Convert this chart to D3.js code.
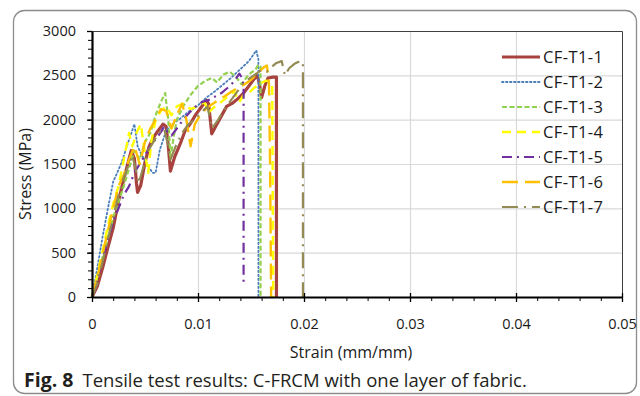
<!DOCTYPE html>
<html>
<head>
<meta charset="utf-8">
<script src="https://cdn.jsdelivr.net/npm/d3@7"></script>
<style>
  body { margin: 0; background: #fff; }
  svg { display: block; font-family: "Open Sans", "Noto Sans", sans-serif; }
</style>
</head>
<body>
<figure id="chart" style="margin:0"></figure>
<script>
// specimen names
const names = ["CF-T1-1", "CF-T1-2", "CF-T1-3", "CF-T1-4", "CF-T1-5", "CF-T1-6", "CF-T1-7"];

// [strain, stress]
const s1 = [[0,0],[0.0005,120],[0.001,330],[0.0015,560],[0.002,780],[0.0025,1080],[0.003,1330],[0.0035,1560],[0.0037,1650],[0.004,1560],[0.0042,1280],[0.0043,1180],[0.0046,1260],[0.005,1520],[0.0054,1700],[0.0058,1800],[0.0062,1870],[0.0067,1950],[0.007,1920],[0.0072,1700],[0.0074,1420],[0.0078,1580],[0.0083,1720],[0.0088,1880],[0.0093,1960],[0.0098,2060],[0.0103,2140],[0.0108,2220],[0.011,2180],[0.0113,1840],[0.0117,1930],[0.0122,2040],[0.0127,2150],[0.0133,2190],[0.0138,2240],[0.0143,2300],[0.0148,2380],[0.0153,2460],[0.0156,2500],[0.0158,2400],[0.016,2250],[0.0163,2380],[0.0166,2470],[0.0171,2480],[0.0174,2480],[0.0174,0]];
const s2 = [[0,0],[0.0005,330],[0.001,680],[0.0015,1000],[0.002,1300],[0.0023,1380],[0.0028,1520],[0.0034,1740],[0.004,1950],[0.0043,1700],[0.0047,1600],[0.0052,1500],[0.0057,1400],[0.006,1400],[0.0064,1660],[0.007,1880],[0.0077,1960],[0.0083,2010],[0.009,2080],[0.0099,2150],[0.0108,2250],[0.0116,2320],[0.0124,2400],[0.0132,2480],[0.014,2570],[0.0148,2660],[0.0155,2780],[0.0157,2680],[0.0157,0]];
const s3 = [[0,0],[0.001,450],[0.002,900],[0.003,1250],[0.0035,1450],[0.004,1650],[0.0045,1550],[0.005,1750],[0.0055,1850],[0.006,2050],[0.0065,2200],[0.0069,2300],[0.0072,2000],[0.0074,1560],[0.0077,1800],[0.008,2000],[0.0086,2150],[0.0093,2280],[0.01,2380],[0.0107,2440],[0.0113,2470],[0.0118,2420],[0.0124,2510],[0.013,2540],[0.0136,2480],[0.0141,2400],[0.0146,2480],[0.015,2530],[0.0154,2560],[0.0157,2620],[0.0159,2600],[0.0159,0]];
const s4 = [[0,0],[0.0005,250],[0.001,520],[0.0015,800],[0.002,1050],[0.0025,1250],[0.003,1550],[0.0035,1850],[0.0038,1700],[0.0042,1850],[0.0046,1950],[0.0049,1700],[0.0053,1400],[0.0056,1750],[0.006,2000],[0.0065,2100],[0.007,2150],[0.0075,2050],[0.008,2150],[0.0086,2180],[0.0093,2120],[0.01,2150],[0.0106,2200],[0.011,2080],[0.0116,2150],[0.0122,2200],[0.0128,2260],[0.0134,2320],[0.0139,2200],[0.0143,2280],[0.0148,2300],[0.0153,2360],[0.0158,2400],[0.0164,2440],[0.017,2420],[0.0171,0]];
const s5 = [[0,0],[0.0005,200],[0.001,430],[0.0015,650],[0.002,850],[0.0025,1000],[0.003,1150],[0.0035,1250],[0.004,1400],[0.0045,1500],[0.005,1600],[0.0055,1700],[0.006,1780],[0.0065,1860],[0.0068,1920],[0.0072,1850],[0.0075,1820],[0.008,1900],[0.0086,2000],[0.0092,2080],[0.0098,2150],[0.0104,2200],[0.011,2220],[0.0116,2260],[0.0122,2300],[0.0128,2360],[0.0134,2430],[0.0139,2520],[0.0141,2480],[0.0143,2400],[0.0143,130]];
const s6 = [[0,0],[0.0005,220],[0.001,480],[0.0015,750],[0.002,1000],[0.0025,1250],[0.003,1380],[0.0035,1550],[0.004,1700],[0.0045,1500],[0.005,1750],[0.0055,1900],[0.006,2000],[0.0065,2120],[0.007,2100],[0.0075,1900],[0.008,2050],[0.0085,2180],[0.0089,2000],[0.0093,1700],[0.0097,1950],[0.0102,2050],[0.0108,2130],[0.0114,2180],[0.012,2230],[0.0126,2270],[0.0132,2320],[0.0138,2360],[0.0144,2400],[0.015,2450],[0.0156,2520],[0.0162,2590],[0.0165,2610],[0.0167,2400],[0.0168,1500],[0.0169,0]];
const s7 = [[0,0],[0.0005,150],[0.001,400],[0.0015,650],[0.002,900],[0.0025,1150],[0.003,1350],[0.0035,1500],[0.0038,1600],[0.0042,1400],[0.0044,1280],[0.0048,1450],[0.0053,1650],[0.0058,1750],[0.0063,1850],[0.0068,1900],[0.0072,1700],[0.0074,1550],[0.0079,1700],[0.0085,1850],[0.0091,1950],[0.0097,2000],[0.0103,2080],[0.0109,2150],[0.0113,1900],[0.0118,1980],[0.0124,2100],[0.013,2200],[0.0136,2300],[0.0142,2400],[0.0148,2460],[0.0155,2520],[0.016,2560],[0.0165,2540],[0.017,2600],[0.0174,2640],[0.0179,2660],[0.0182,2500],[0.0186,2580],[0.0191,2630],[0.0196,2660],[0.0199,2650],[0.0199,0]];
const seriesData = [s1, s2, s3, s4, s5, s6, s7];

// axis ticks
const xTicks = [0, 0.01, 0.02, 0.03, 0.04, 0.05];
const yTicks = [0, 500, 1000, 1500, 2000, 2500, 3000];

const styles = [
  { color: "#a8423f", width: 3.2, dash: null },
  { color: "#4a7ebb", width: 1.8, dash: "1.5,2.5", cap: "round" },
  { color: "#92d050", width: 2.2, dash: "5,2.5" },
  { color: "#ffff00", width: 2.4, dash: "9,6" },
  { color: "#7030a0", width: 2.2, dash: "10,5,2,5" },
  { color: "#ffc000", width: 2.4, dash: "16,7" },
  { color: "#948a54", width: 2.2, dash: "16,6,2,6" }
];

const W = 640, H = 396;
const plot = { left: 92, right: 622, top: 31, bottom: 297 };

const svg = d3.select("#chart").append("svg")
  .attr("width", W).attr("height", H);

// outer frame
svg.append("rect")
  .attr("x", 13.5).attr("y", 10.5).attr("width", 623).attr("height", 383)
  .attr("rx", 11).attr("fill", "none").attr("stroke", "#8c8c8c").attr("stroke-width", 1.3);

const x = d3.scaleLinear().domain([0, 0.05]).range([plot.left, plot.right]);
const y = d3.scaleLinear().domain([0, 3000]).range([plot.bottom, plot.top]);

// gridlines
svg.append("g").selectAll("line").data(yTicks.slice(1, -1)).enter().append("line")
  .attr("x1", plot.left).attr("x2", plot.right)
  .attr("y1", d => y(d) + 0.5).attr("y2", d => y(d) + 0.5)
  .attr("stroke", "#d9d9d9").attr("stroke-width", 1.2);
svg.append("g").selectAll("line").data(xTicks.slice(1, -1)).enter().append("line")
  .attr("y1", plot.top).attr("y2", plot.bottom)
  .attr("x1", d => x(d) + 0.5).attr("x2", d => x(d) + 0.5)
  .attr("stroke", "#d9d9d9").attr("stroke-width", 1.2);

// top / right frame of plot area
svg.append("path")
  .attr("d", `M${plot.left},${plot.top + 0.5}H${plot.right + 0.5}V${plot.bottom}`)
  .attr("fill", "none").attr("stroke", "#404040").attr("stroke-width", 1);

// series
const line = d3.line().x(d => x(d[0])).y(d => y(d[1]));
seriesData.forEach((data, i) => {
  const st = styles[i];
  svg.append("path").datum(data)
    .attr("d", line)
    .attr("fill", "none")
    .attr("stroke", st.color)
    .attr("stroke-width", st.width)
    .attr("stroke-linejoin", "round")
    .attr("stroke-linecap", st.cap || "butt")
    .attr("stroke-dasharray", st.dash);
});

// minor ticks
const xMinor = d3.range(0, 0.0501, 0.002);
const yMinor = d3.range(0, 3001, 100);
svg.append("g").attr("transform", `translate(0,${plot.bottom})`)
  .call(d3.axisBottom(x).tickValues(xMinor).tickSize(4).tickFormat(""))
  .call(g => g.select(".domain").remove());
svg.append("g").attr("transform", `translate(${plot.left},0)`)
  .call(d3.axisLeft(y).tickValues(yMinor).tickSize(4).tickFormat(""))
  .call(g => g.select(".domain").remove());

// main axes
const xAxis = svg.append("g").attr("transform", `translate(0,${plot.bottom})`)
  .call(d3.axisBottom(x).tickValues(xTicks).tickSize(5).tickPadding(17).tickSizeOuter(0)
    .tickFormat(d => d === 0 ? "0" : d3.format(".2f")(d)));
xAxis.selectAll(".tick line").attr("y1", -4).attr("stroke-width", 1.3);
xAxis.select(".domain").attr("stroke-width", 2.2);
xAxis.selectAll("text").attr("font-size", "14.5px").attr("fill", "#1a1a1a")
  .attr("font-family", "Open Sans, sans-serif");

const yAxis = svg.append("g").attr("transform", `translate(${plot.left},0)`)
  .call(d3.axisLeft(y).tickValues(yTicks).tickSize(5).tickPadding(11).tickSizeOuter(0)
    .tickFormat(d3.format("d")));
yAxis.select(".domain").attr("stroke-width", 2.2);
yAxis.selectAll(".tick line").attr("stroke-width", 1.3);
yAxis.selectAll("text").attr("font-size", "14.5px").attr("fill", "#1a1a1a")
  .attr("font-family", "Open Sans, sans-serif");

// axis titles
svg.append("text").attr("x", 351).attr("y", 358).attr("text-anchor", "middle")
  .attr("font-size", "16px").attr("fill", "#1a1a1a").text("Strain (mm/mm)");
svg.append("text").attr("transform", "translate(31,174) rotate(-90)")
  .attr("text-anchor", "middle").attr("font-size", "16px").attr("fill", "#1a1a1a")
  .text("Stress (MPa)");

// legend
const legend = svg.append("g");
names.forEach((name, i) => {
  const st = styles[i];
  const ly = 57 + i * 25;
  legend.append("line")
    .attr("x1", 502).attr("x2", 540).attr("y1", ly).attr("y2", ly)
    .attr("stroke", st.color).attr("stroke-width", st.width)
    .attr("stroke-linecap", st.cap || "butt")
    .attr("stroke-dasharray", st.dash);
  legend.append("text").attr("x", 543).attr("y", ly + 6)
    .attr("font-size", "16.5px").attr("letter-spacing", "0.4px")
    .attr("fill", "#1a1a1a").text(name);
});

// caption
const cap = svg.append("text").attr("x", 24).attr("y", 387).attr("font-size", "18.5px").attr("fill", "#231f20");
cap.append("tspan").attr("font-weight", "bold").attr("font-size", "19.5px").text("Fig. 8");
cap.append("tspan").attr("dx", 9).text("Tensile test results: C-FRCM with one layer of fabric.");
</script>
</body>
</html>
